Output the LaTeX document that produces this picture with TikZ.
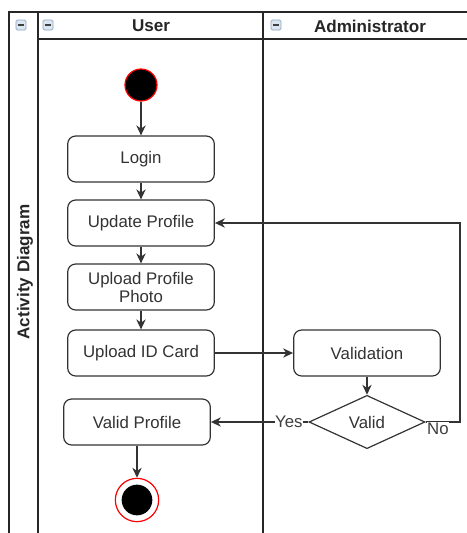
\documentclass[tikz,border=0pt]{standalone}
\usepackage{fontspec}
\setmainfont{Liberation Sans}
\usetikzlibrary{shapes.geometric,arrows.meta,positioning}
\definecolor{edge}{HTML}{333333}
\definecolor{iconfill}{HTML}{DCE6F0}
\definecolor{iconedge}{HTML}{8EA6C0}
\tikzset{
  poolline/.style={line width=1.1pt,draw=black!85},
  act/.style={rounded corners=6pt,draw=edge,line width=0.9pt,fill=white,
    minimum width=110pt,minimum height=34.5pt,align=center,inner sep=1pt,
    font=\fontsize{12.6}{13.5}\selectfont,text=black!80},
  flow/.style={draw=edge,line width=0.9pt,-{Stealth[length=7.5pt,width=7pt]}},
  lanehead/.style={font=\fontsize{12.8}{14}\selectfont\bfseries,text=black!85},
  edgelabel/.style={fill=white,inner sep=0.5pt,font=\fontsize{12.6}{14}\selectfont,text=black!75},
  foldicon/.style={draw=iconedge,fill=iconfill,rounded corners=1pt,line width=0.6pt,
    minimum size=7.5pt,inner sep=0pt}
}
\begin{document}
\begin{tikzpicture}[x=0.75pt,y=-0.75pt]
\useasboundingbox (0,0) rectangle (467,533);
% swimlane pool frame
\draw[poolline] (9,533) -- (9,12) -- (467,12);
\draw[poolline] (38,12) -- (38,533);
\draw[poolline] (38,39) -- (467,39);
\draw[poolline] (263,12) -- (263,533);
% collapse icons
\foreach \name/\cx in {iconpool/21,iconuser/48,iconadmin/276}{
  \node[foldicon] (\name) at (\cx,25) {};
  \draw[line width=1pt,black!75] ([xshift=-2.2pt]\name.center) -- ([xshift=2.2pt]\name.center);
}
% headers
\node[lanehead] (huser) at (151,26) {User};
\node[lanehead] (hadmin) at (370,26) {Administrator};
\node[lanehead,rotate=90] (hpool) at (25,272) {Activity Diagram};
% activities
\node[circle,fill=black,draw=red,line width=0.9pt,minimum size=24pt,inner sep=0pt] (start) at (141,85) {};
\node[act] (login) at (141,159) {Login};
\node[act] (update) at (141,223) {Update Profile};
\node[act] (photo) at (141,287) {Upload Profile\\Photo};
\node[act] (idcard) at (141,353) {Upload ID Card};
\node[act] (valid) at (367,353) {Validation};
\node[diamond,draw=edge,line width=0.9pt,fill=white,aspect=2.1,minimum width=87pt,minimum height=40pt,
  inner sep=0pt,font=\fontsize{12.6}{14}\selectfont,text=black!80] (check) at (367,422) {Valid};
\node[act] (vprofile) at (137,422) {Valid Profile};
\node[circle,draw=red,line width=0.9pt,fill=white,minimum size=32.5pt,inner sep=0pt] (stop) at (137,500) {};
\node[circle,fill=black,minimum size=23pt,inner sep=0pt] (stopdot) at (137,500) {};
\coordinate (loopA) at (460,422);
\coordinate (loopB) at (460,223);
% connectors
\draw[flow] (start) -- (login);
\draw[flow] (login) -- (update);
\draw[flow] (update) -- (photo);
\draw[flow] (photo) -- (idcard);
\draw[flow] (idcard) -- (valid);
\draw[flow] (valid) -- (check);
\draw[flow] (check) -- node[edgelabel,pos=0.2] (yes) {Yes} (vprofile);
\draw[flow] (check.east) -- (loopA) -- (loopB) -- (update.east);
\node[edgelabel,anchor=west] (no) at ([xshift=0.5pt,yshift=-5pt]check.east) {No};
\draw[flow] (vprofile) -- (stop);
\end{tikzpicture}
\end{document}
